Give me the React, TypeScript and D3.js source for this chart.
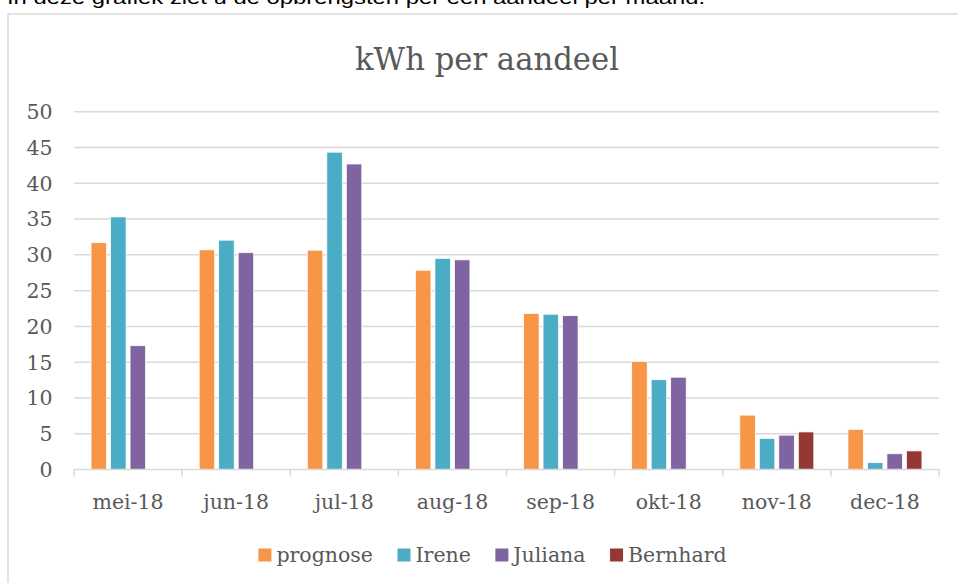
import React, { useEffect, useRef } from "react";
import * as d3 from "d3";

const introText = "In deze grafiek ziet u de opbrengsten per een aandeel per maand.";
const titleText = "kWh per aandeel";
const categories = ["mei-18", "jun-18", "jul-18", "aug-18", "sep-18", "okt-18", "nov-18", "dec-18"];
const seriesNames = ["prognose", "Irene", "Juliana", "Bernhard"];
const prognose = [31.7, 30.7, 30.65, 27.85, 21.8, 15.1, 7.6, 5.6];
const irene = [35.3, 32.05, 44.35, 29.5, 21.7, 12.55, 4.35, 0.95];
const juliana = [17.3, 30.3, 42.7, 29.3, 21.5, 12.9, 4.8, 2.2];
const bernhard: (number | null)[] = [null, null, null, null, null, null, 5.25, 2.6];
const yTicks = [0, 5, 10, 15, 20, 25, 30, 35, 40, 45, 50];
const colors = ["#F79646", "#4BACC6", "#8064A2", "#953735"];

const W = 958;
const H = 583;
const FONT = "'DejaVu Serif', serif";
const TEXT = "#595959";
const GRID = "#D9D9D9";

export default function App() {
  const ref = useRef<SVGSVGElement>(null);

  useEffect(() => {
    const svg = d3.select(ref.current);
    svg.selectAll("*").remove();

    // intro text (cut off at top)
    svg.append("text")
      .attr("x", 7).attr("y", 3.5)
      .attr("font-family", "'Liberation Sans', Arial, sans-serif")
      .attr("font-size", 19)
      .attr("fill", "#000")
      .attr("textLength", 698)
      .attr("lengthAdjust", "spacingAndGlyphs")
      .text(introText);

    // chart frame
    svg.append("rect")
      .attr("x", 8).attr("y", 14)
      .attr("width", 1000).attr("height", 700)
      .attr("fill", "#fff")
      .attr("stroke", GRID).attr("stroke-width", 1.5);

    // title
    svg.append("text")
      .attr("x", 487).attr("y", 69.5)
      .attr("text-anchor", "middle")
      .attr("font-family", FONT)
      .attr("font-size", 32)
      .attr("fill", TEXT)
      .attr("textLength", 264)
      .attr("lengthAdjust", "spacingAndGlyphs")
      .text(titleText);

    const x0 = d3.scaleBand<string>().domain(categories).range([74, 939]).padding(0);
    const x1 = d3.scaleBand<string>().domain(seriesNames)
      .range([0, x0.bandwidth()])
      .paddingInner(0.205).paddingOuter(0.875);
    const y = d3.scaleLinear().domain([0, 50]).range([469.5, 111.75]);

    // gridlines
    svg.append("g").selectAll("line")
      .data(yTicks.filter((t) => t > 0))
      .join("line")
      .attr("x1", 74).attr("x2", 939)
      .attr("y1", (d) => y(d)).attr("y2", (d) => y(d))
      .attr("stroke", GRID).attr("stroke-width", 1.5);

    // y labels
    svg.append("g").selectAll("text")
      .data(yTicks)
      .join("text")
      .attr("x", 52.5).attr("y", (d) => y(d))
      .attr("dy", "0.36em")
      .attr("text-anchor", "end")
      .attr("font-family", FONT).attr("font-size", 20.5)
      .attr("fill", TEXT)
      .text((d) => String(d));

    // bars
    const allSeries = [prognose, irene, juliana, bernhard];
    const barData: { cat: string; s: string; v: number; c: string }[] = [];
    categories.forEach((cat, i) => {
      seriesNames.forEach((s, j) => {
        const v = allSeries[j][i];
        if (v != null) barData.push({ cat, s, v, c: colors[j] });
      });
    });
    svg.append("g").selectAll("rect")
      .data(barData)
      .join("rect")
      .attr("x", (d) => (x0(d.cat) as number) + (x1(d.s) as number))
      .attr("width", x1.bandwidth())
      .attr("y", (d) => y(d.v))
      .attr("height", (d) => y(0) - y(d.v))
      .attr("fill", (d) => d.c)
      .attr("stroke", "#fff").attr("stroke-width", 0.75);

    // x axis
    svg.append("line")
      .attr("x1", 74).attr("x2", 939.5)
      .attr("y1", y(0)).attr("y2", y(0))
      .attr("stroke", GRID).attr("stroke-width", 1.5);
    const bounds = categories.map((c) => x0(c) as number).concat([939]);
    svg.append("g").selectAll("line")
      .data(bounds)
      .join("line")
      .attr("x1", (d) => d).attr("x2", (d) => d)
      .attr("y1", y(0)).attr("y2", y(0) + 7)
      .attr("stroke", GRID).attr("stroke-width", 1.5);
    svg.append("g").selectAll("text")
      .data(categories)
      .join("text")
      .attr("x", (d) => (x0(d) as number) + x0.bandwidth() / 2)
      .attr("y", 508.5)
      .attr("text-anchor", "middle")
      .attr("font-family", FONT).attr("font-size", 20.5)
      .attr("fill", TEXT)
      .text((d) => d);

    // legend
    const lg = svg.append("g");
    const items = seriesNames.map((name, i) => {
      const g = lg.append("g");
      g.append("rect")
        .attr("x", 0).attr("y", 548.5)
        .attr("width", 13).attr("height", 13)
        .attr("fill", colors[i]);
      const t = g.append("text")
        .attr("x", 18).attr("y", 562)
        .attr("font-family", FONT).attr("font-size", 20.5)
        .attr("fill", TEXT)
        .text(name);
      const tw = (t.node() as SVGTextElement).getComputedTextLength();
      return { g, w: 18 + tw };
    });
    const gap = 24.5;
    const total = items.reduce((a, b) => a + b.w, 0) + gap * (items.length - 1);
    let cx = 492.5 - total / 2;
    items.forEach((it) => {
      it.g.attr("transform", `translate(${cx},0)`);
      cx += it.w + gap;
    });
  }, []);

  return (
    <svg
      ref={ref}
      width={W}
      height={H}
      style={{ position: "absolute", left: 0, top: 0, background: "#fff" }}
    />
  );
}
